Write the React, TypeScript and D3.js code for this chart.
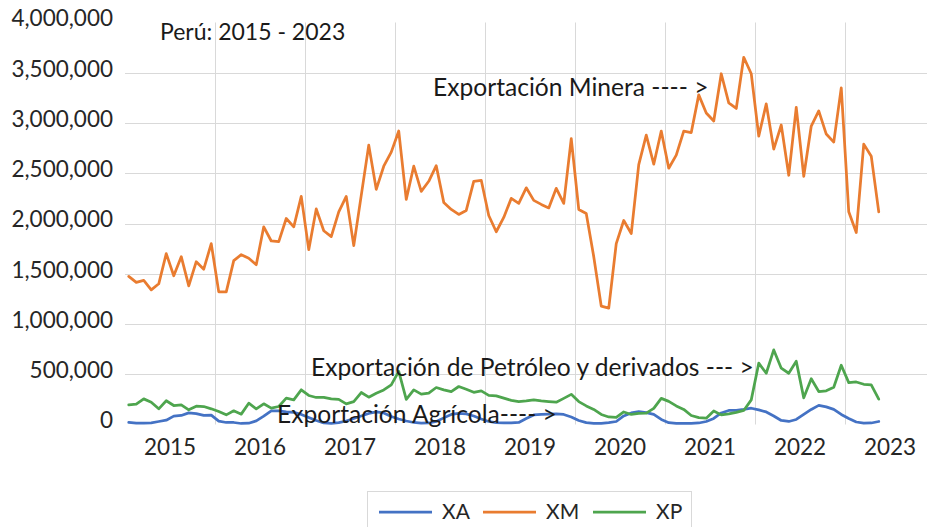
import React, { useEffect, useRef } from "react";
import * as d3 from "d3";

// monthly series, Jan 2015 .. May 2023
const years = ["2015", "2016", "2017", "2018", "2019", "2020", "2021", "2022", "2023"];

const xmValues = [
  1474000, 1414000, 1434000, 1340000, 1400000, 1700000, 1480000, 1670000, 1380000, 1620000,
  1545000, 1800000, 1320000, 1320000, 1630000, 1690000, 1655000, 1590000, 1967000, 1826000,
  1820000, 2050000, 1967000, 2270000, 1740000, 2145000, 1928000, 1870000, 2115000, 2270000,
  1780000, 2280000, 2780000, 2340000, 2570000, 2710000, 2920000, 2240000, 2570000, 2320000,
  2420000, 2575000, 2210000, 2140000, 2090000, 2130000, 2420000, 2430000, 2080000, 1918000,
  2060000, 2250000, 2200000, 2355000, 2230000, 2190000, 2155000, 2350000, 2200000, 2845000,
  2140000, 2100000, 1670000, 1178000, 1158000, 1800000, 2030000, 1900000, 2585000, 2880000,
  2590000, 2920000, 2550000, 2680000, 2920000, 2905000, 3280000, 3100000, 3020000, 3490000,
  3200000, 3145000, 3654000, 3490000, 2870000, 3190000, 2740000, 2980000, 2480000, 3156000,
  2470000, 2970000, 3120000, 2890000, 2810000, 3350000, 2116000, 1910000, 2790000, 2670000,
  2116000,
];

const xaValues = [
  20000, 13000, 13000, 17000, 30000, 43000, 83000, 90000, 116000, 109000,
  90000, 93000, 33000, 20000, 20000, 10000, 13000, 36000, 83000, 136000,
  136000, 125000, 120000, 100000, 70000, 40000, 15000, 12000, 18000, 35000,
  60000, 85000, 110000, 125000, 115000, 80000, 55000, 35000, 20000, 13000,
  15000, 30000, 66000, 100000, 110000, 105000, 85000, 55000, 30000, 18000,
  15000, 15000, 20000, 60000, 95000, 100000, 102000, 105000, 100000, 75000,
  40000, 18000, 12000, 12000, 18000, 30000, 85000, 115000, 128000, 118000,
  100000, 50000, 18000, 12000, 12000, 12000, 15000, 30000, 60000, 115000,
  140000, 140000, 150000, 162000, 145000, 125000, 85000, 40000, 30000, 50000,
  100000, 150000, 190000, 175000, 150000, 100000, 60000, 25000, 13000, 15000,
  30000,
];

const xpValues = [
  196000, 202000, 255000, 222000, 156000, 236000, 189000, 196000, 146000, 182000,
  179000, 156000, 129000, 96000, 136000, 103000, 212000, 156000, 206000, 163000,
  179000, 262000, 245000, 345000, 289000, 269000, 270000, 255000, 250000, 205000,
  228000, 318000, 272000, 311000, 344000, 394000, 528000, 250000, 345000, 302000,
  312000, 368000, 345000, 328000, 378000, 350000, 320000, 335000, 290000, 285000,
  262000, 240000, 228000, 235000, 245000, 235000, 228000, 222000, 260000, 300000,
  228000, 185000, 150000, 100000, 75000, 70000, 125000, 100000, 110000, 113000,
  160000, 260000, 230000, 185000, 150000, 90000, 68000, 63000, 135000, 96000,
  106000, 120000, 140000, 245000, 610000, 510000, 742000, 560000, 510000, 630000,
  265000, 455000, 328000, 335000, 371000, 590000, 417000, 423000, 400000, 395000,
  252000,
];

const yTicks = [0, 500000, 1000000, 1500000, 2000000, 2500000, 3000000, 3500000, 4000000];

const seriesNames = ["XA", "XM", "XP"];
const seriesColors = ["#4472C4", "#E97C30", "#4EA54E"];

const FONT = "Lato, 'Open Sans', sans-serif";

export default function App() {
  const ref = useRef<SVGSVGElement | null>(null);

  useEffect(() => {
    const svg = d3.select(ref.current);
    svg.selectAll("*").remove();

    const width = 927;
    const height = 527;
    const left = 125;
    const monthsPerYear = 12;
    const slots = years.length * monthsPerYear;

    svg.attr("width", width).attr("height", height);

    const x = d3.scaleLinear().domain([0, slots]).range([left, left + slots * 7.5]);
    const y = d3.scaleLinear().domain([0, 4000000]).range([424.5, 22.5]);

    // gridlines
    const grid = svg.append("g").attr("stroke", "#d9d9d9").attr("stroke-width", 1);
    yTicks
      .filter((t) => t > 0 && t < 4000000)
      .forEach((t) => {
        grid.append("line").attr("x1", left).attr("x2", width).attr("y1", Math.round(y(t)) + 0.5).attr("y2", Math.round(y(t)) + 0.5);
      });
    d3.range(1, years.length).forEach((k) => {
      const gx = Math.round(x(k * monthsPerYear)) + 0.5;
      grid.append("line").attr("x1", gx).attr("x2", gx).attr("y1", y(4000000)).attr("y2", y(0));
    });

    // y tick labels
    svg
      .append("g")
      .selectAll("text")
      .data(yTicks)
      .join("text")
      .attr("x", 113)
      .attr("y", (d) => y(d) - 4)
      .attr("dy", "0.35em")
      .attr("text-anchor", "end")
      .attr("font-family", FONT)
      .attr("font-size", 22.5)
      .attr("fill", "#262626")
      .text((d) => d3.format(",")(d));

    // year labels
    svg
      .append("g")
      .selectAll("text")
      .data(years)
      .join("text")
      .attr("x", (_, i) => x(i * monthsPerYear + monthsPerYear / 2))
      .attr("y", 447)
      .attr("dy", "0.35em")
      .attr("text-anchor", "middle")
      .attr("font-family", FONT)
      .attr("font-size", 22.5)
      .attr("fill", "#262626")
      .text((d) => d);

    // series
    const line = d3
      .line<number>()
      .x((_, i) => x(i + 0.5))
      .y((d) => y(d));

    [xaValues, xmValues, xpValues].forEach((vals, i) => {
      svg
        .append("path")
        .datum(vals)
        .attr("fill", "none")
        .attr("stroke", seriesColors[i])
        .attr("stroke-width", 2.75)
        .attr("stroke-linejoin", "round")
        .attr("stroke-linecap", "round")
        .attr("d", line);
    });

    // annotations
    const notes: [string, number, number][] = [
      ["Perú: 2015 - 2023", 160, 32],
      ["Exportación Minera ---- >", 433, 87],
      ["Exportación de Petróleo y derivados --- >", 311, 367],
      ["Exportación Agrícola---- >", 277, 414],
    ];
    svg
      .append("g")
      .selectAll("text")
      .data(notes)
      .join("text")
      .attr("x", (d) => d[1])
      .attr("y", (d) => d[2])
      .attr("dy", "0.35em")
      .attr("font-family", FONT)
      .attr("font-size", (_, i) => (i === 0 ? 23 : 24.6))
      .attr("fill", "#1a1a1a")
      .text((d) => d[0]);

    // legend
    const legend = svg.append("g");
    legend
      .append("rect")
      .attr("x", 367.5)
      .attr("y", 491.5)
      .attr("width", 324)
      .attr("height", 50)
      .attr("fill", "#fff")
      .attr("stroke", "#d9d9d9");
    const legendX = [379, 483, 593];
    seriesNames.forEach((name, i) => {
      legend
        .append("line")
        .attr("x1", legendX[i])
        .attr("x2", legendX[i] + 53)
        .attr("y1", 512)
        .attr("y2", 512)
        .attr("stroke", seriesColors[i])
        .attr("stroke-width", 2.75);
      legend
        .append("text")
        .attr("x", legendX[i] + 63)
        .attr("y", 512)
        .attr("dy", "0.35em")
        .attr("font-family", FONT)
        .attr("font-size", 21)
        .attr("fill", "#262626")
        .text(name);
    });
  }, []);

  return <svg ref={ref} style={{ position: "absolute", left: 0, top: 0, display: "block" }}></svg>;
}
